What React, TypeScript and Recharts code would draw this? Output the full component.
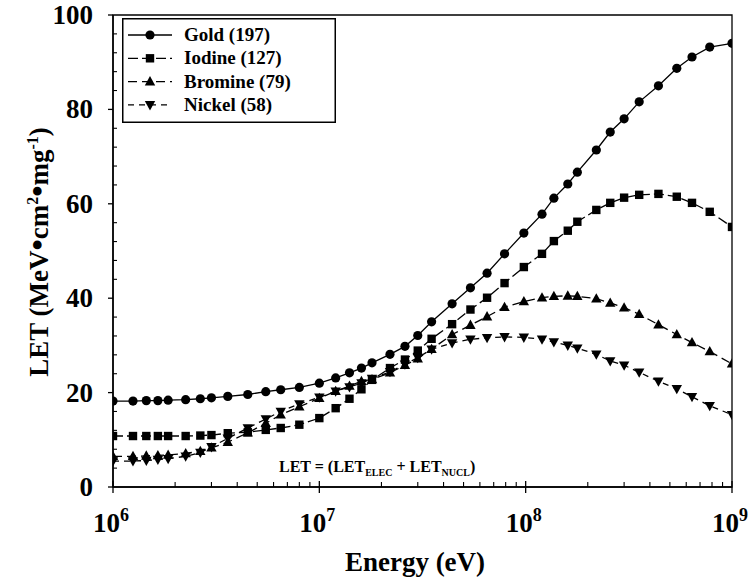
import React from 'react';
import { LineChart, Line, XAxis, YAxis, ReferenceArea, Legend, Customized } from 'recharts';

const energies = [
  1e6, 1.25e6, 1.45e6, 1.65e6, 1.85e6, 2.25e6, 2.65e6, 3e6, 3.6e6, 4.5e6,
  5.5e6, 6.5e6, 8e6, 1e7, 1.2e7, 1.4e7, 1.6e7, 1.8e7, 2.2e7, 2.6e7,
  3e7, 3.5e7, 4.4e7, 5.4e7, 6.5e7, 7.9e7, 9.8e7, 1.2e8, 1.37e8, 1.6e8,
  1.78e8, 2.2e8, 2.57e8, 3e8, 3.55e8, 4.4e8, 5.4e8, 6.4e8, 7.8e8, 1e9,
];
const gold = [
  18.2, 18.2, 18.3, 18.3, 18.4, 18.5, 18.7, 18.9, 19.2, 19.6,
  20.2, 20.6, 21.1, 22.0, 23.1, 24.2, 25.2, 26.3, 28.1, 29.8,
  32.1, 35.0, 38.8, 42.2, 45.3, 49.4, 53.8, 57.8, 61.2, 64.2,
  66.7, 71.4, 75.2, 78.0, 81.6, 85.0, 88.7, 91.1, 93.2, 94.0,
];
const iodine = [
  10.8, 10.8, 10.8, 10.8, 10.8, 10.8, 10.9, 11.0, 11.4, 11.6,
  12.1, 12.5, 13.2, 14.6, 16.7, 18.7, 20.7, 22.7, 25.2, 27.0,
  28.9, 31.4, 34.5, 37.6, 40.1, 43.2, 46.6, 49.4, 52.1, 54.3,
  56.2, 58.7, 60.2, 61.3, 61.9, 62.1, 61.5, 60.2, 58.3, 55.1,
];
const bromine = [
  6.5, 6.5, 6.6, 6.7, 6.8, 7.1, 7.6, 8.3, 9.5, 11.5,
  13.5, 15.3, 17.0, 18.8, 20.3, 21.4, 22.4, 22.8, 24.2, 25.8,
  27.2, 29.2, 32.3, 34.3, 36.1, 38.1, 39.3, 40.1, 40.4, 40.5,
  40.4, 39.9, 39.0, 38.0, 36.6, 34.4, 32.3, 30.6, 28.7, 26.1,
];
const nickel = [
  5.5, 5.5, 5.6, 5.8, 6.0, 6.5, 7.3, 8.5, 10.3, 12.5,
  14.4, 16.0, 17.6, 19.0, 20.3, 21.2, 22.0, 23.0, 24.4, 26.0,
  27.4, 29.2, 30.5, 31.3, 31.6, 31.8, 31.7, 31.3, 30.7, 30.0,
  29.4, 28.1, 26.7, 25.8, 24.3, 22.4, 20.8, 19.1, 17.2, 15.3,
];
const seriesNames = ['Gold (197)', 'Iodine (127)', 'Bromine (79)', 'Nickel (58)'];
const xMajorTicks = [1e6, 1e7, 1e8, 1e9];
const xMajorExponents = ['6', '7', '8', '9'];
const xMinorTicks = [
  2e6, 3e6, 4e6, 5e6, 6e6, 7e6, 8e6, 9e6,
  2e7, 3e7, 4e7, 5e7, 6e7, 7e7, 8e7, 9e7,
  2e8, 3e8, 4e8, 5e8, 6e8, 7e8, 8e8, 9e8,
];
const yMajorTicks = [0, 20, 40, 60, 80, 100];
const yMinorTicks = [4, 8, 12, 16, 24, 28, 32, 36, 44, 48, 52, 56, 64, 68, 72, 76, 84, 88, 92, 96];

const data = energies.map((e, i) => ({
  energy: e,
  gold: gold[i],
  iodine: iodine[i],
  bromine: bromine[i],
  nickel: nickel[i],
}));

const FONT = 'Liberation Serif, DejaVu Serif, serif';
const textStyle: React.CSSProperties = { fontFamily: FONT, fontWeight: 700 };
const dashes = ['', '10 4', '9 5', '6 5'];

type MarkerKind = 'circle' | 'square' | 'up' | 'down';
const markerKinds: MarkerKind[] = ['circle', 'square', 'up', 'down'];

function Marker({ kind, cx, cy }: { kind: MarkerKind; cx: number; cy: number }) {
  if (kind === 'circle') return <circle cx={cx} cy={cy} r={4.6} fill="#000" />;
  if (kind === 'square') return <rect x={cx - 4.2} y={cy - 4.2} width={8.4} height={8.4} fill="#000" />;
  if (kind === 'up')
    return <polygon points={`${cx},${cy - 5.5} ${cx - 5.2},${cy + 3.8} ${cx + 5.2},${cy + 3.8}`} fill="#000" />;
  return <polygon points={`${cx},${cy + 5.5} ${cx - 5.2},${cy - 3.8} ${cx + 5.2},${cy - 3.8}`} fill="#000" />;
}

const makeDot = (kind: MarkerKind) => (props: any) => {
  const { cx, cy, index } = props;
  if (cx == null || cy == null) return <g key={`d-${kind}-${index}`} />;
  return (
    <g key={`d-${kind}-${index}`}>
      <Marker kind={kind} cx={cx} cy={cy} />
    </g>
  );
};

const XTick = (props: any) => {
  const { x, y, payload } = props;
  const v = payload.value;
  const mi = xMajorTicks.indexOf(v);
  if (mi >= 0) {
    return (
      <g>
        <line x1={x} y1={y} x2={x} y2={y + 6} stroke="#000" strokeWidth={1.3} />
        <line x1={x} y1={y} x2={x} y2={y - 6} stroke="#000" strokeWidth={1.3} />
        <text x={x - 2} y={y + 45} textAnchor="middle" style={textStyle} fontSize={27} fill="#000">
          10
          <tspan dy={-11} fontSize={18}>{xMajorExponents[mi]}</tspan>
        </text>
      </g>
    );
  }
  return <line x1={x} y1={y} x2={x} y2={y - 5} stroke="#000" strokeWidth={1.1} />;
};

const YTick = (props: any) => {
  const { x, y, payload } = props;
  const v = payload.value;
  if (yMajorTicks.includes(v)) {
    return (
      <g>
        <line x1={x - 5} y1={y} x2={x} y2={y} stroke="#000" strokeWidth={1.3} />
        <text x={x - 20} y={y + 9} textAnchor="end" style={textStyle} fontSize={27} fill="#000">
          {v}
        </text>
      </g>
    );
  }
  return <line x1={x} y1={y} x2={x + 4} y2={y} stroke="#000" strokeWidth={1.1} />;
};

const LegendBox = () => (
  <svg width={214} height={105} style={{ display: 'block' }}>
    <rect x={0.75} y={0.75} width={212.5} height={103.5} fill="#fff" stroke="#000" strokeWidth={1.5} />
    {seriesNames.map((name, i) => {
      const cy = 17 + i * 23.3;
      return (
        <g key={name}>
          <line x1={6} y1={cy} x2={50} y2={cy} stroke="#000" strokeWidth={1.3} strokeDasharray={dashes[i] || undefined} />
          <Marker kind={markerKinds[i]} cx={28} cy={cy} />
          <text x={62} y={cy + 6} style={textStyle} fontSize={19} fill="#000">
            {name}
          </text>
        </g>
      );
    })}
  </svg>
);

const Annotations = () => (
  <g>
    <text x={279} y={472} style={textStyle} fontSize={16} fill="#000">
      LET = (LET
      <tspan dy={4} fontSize={10}>ELEC</tspan>
      <tspan dy={-4}> + LET</tspan>
      <tspan dy={4} fontSize={10}>NUCL</tspan>
      <tspan dy={-4}>)</tspan>
    </text>
    <text x={415} y={571} textAnchor="middle" style={textStyle} fontSize={27} fill="#000">
      Energy (eV)
    </text>
    <text transform="translate(48, 252) rotate(-90)" textAnchor="middle" style={textStyle} fontSize={27} fill="#000">
      LET (MeV
      <tspan fontSize={32} dy={0}>•</tspan>
      <tspan>cm</tspan>
      <tspan dy={-10} fontSize={16}>2</tspan>
      <tspan dy={10} fontSize={32}>•</tspan>
      <tspan>mg</tspan>
      <tspan dy={-10} fontSize={16}>-1</tspan>
      <tspan dy={10}>)</tspan>
    </text>
  </g>
);

export default function App() {
  const lines = [
    { key: 'gold', kind: 'circle' as MarkerKind },
    { key: 'iodine', kind: 'square' as MarkerKind },
    { key: 'bromine', kind: 'up' as MarkerKind },
    { key: 'nickel', kind: 'down' as MarkerKind },
  ];
  return (
    <div style={{ position: 'absolute', left: 0, top: 0, width: 749, height: 580, background: '#fff' }}>
      <LineChart width={749} height={580} data={data} margin={{ top: 15, right: 17, left: 0, bottom: 0 }}>
        <XAxis
          dataKey="energy"
          type="number"
          scale="log"
          domain={[1e6, 1e9]}
          ticks={[...xMajorTicks, ...xMinorTicks].sort((a, b) => a - b)}
          interval={0}
          tick={<XTick />}
          tickLine={false}
          tickSize={0}
          tickMargin={0}
          axisLine={{ stroke: '#000', strokeWidth: 1.5 }}
          height={93}
          allowDataOverflow
        />
        <YAxis
          type="number"
          domain={[0, 100]}
          ticks={[...yMajorTicks, ...yMinorTicks].sort((a, b) => a - b)}
          interval={0}
          tick={<YTick />}
          tickLine={false}
          tickSize={0}
          tickMargin={0}
          axisLine={{ stroke: '#000', strokeWidth: 1.5 }}
          width={113}
          allowDataOverflow
        />
        <ReferenceArea x1={1e6} x2={1e9} y1={0} y2={100} fill="none" stroke="#000" strokeWidth={1.3} />
        {lines.map((l, i) => (
          <Line
            key={l.key}
            dataKey={l.key}
            name={seriesNames[i]}
            type="linear"
            stroke="#000"
            strokeWidth={1.3}
            strokeDasharray={dashes[i] || undefined}
            dot={makeDot(l.kind)}
            activeDot={false}
            isAnimationActive={false}
          />
        ))}
        <Legend
          layout="vertical"
          align="center"
          verticalAlign="middle"
          wrapperStyle={{ left: 122, top: 18, width: 214, height: 105 }}
          content={() => <LegendBox />}
        />
        <Customized component={Annotations} />
      </LineChart>
    </div>
  );
}
